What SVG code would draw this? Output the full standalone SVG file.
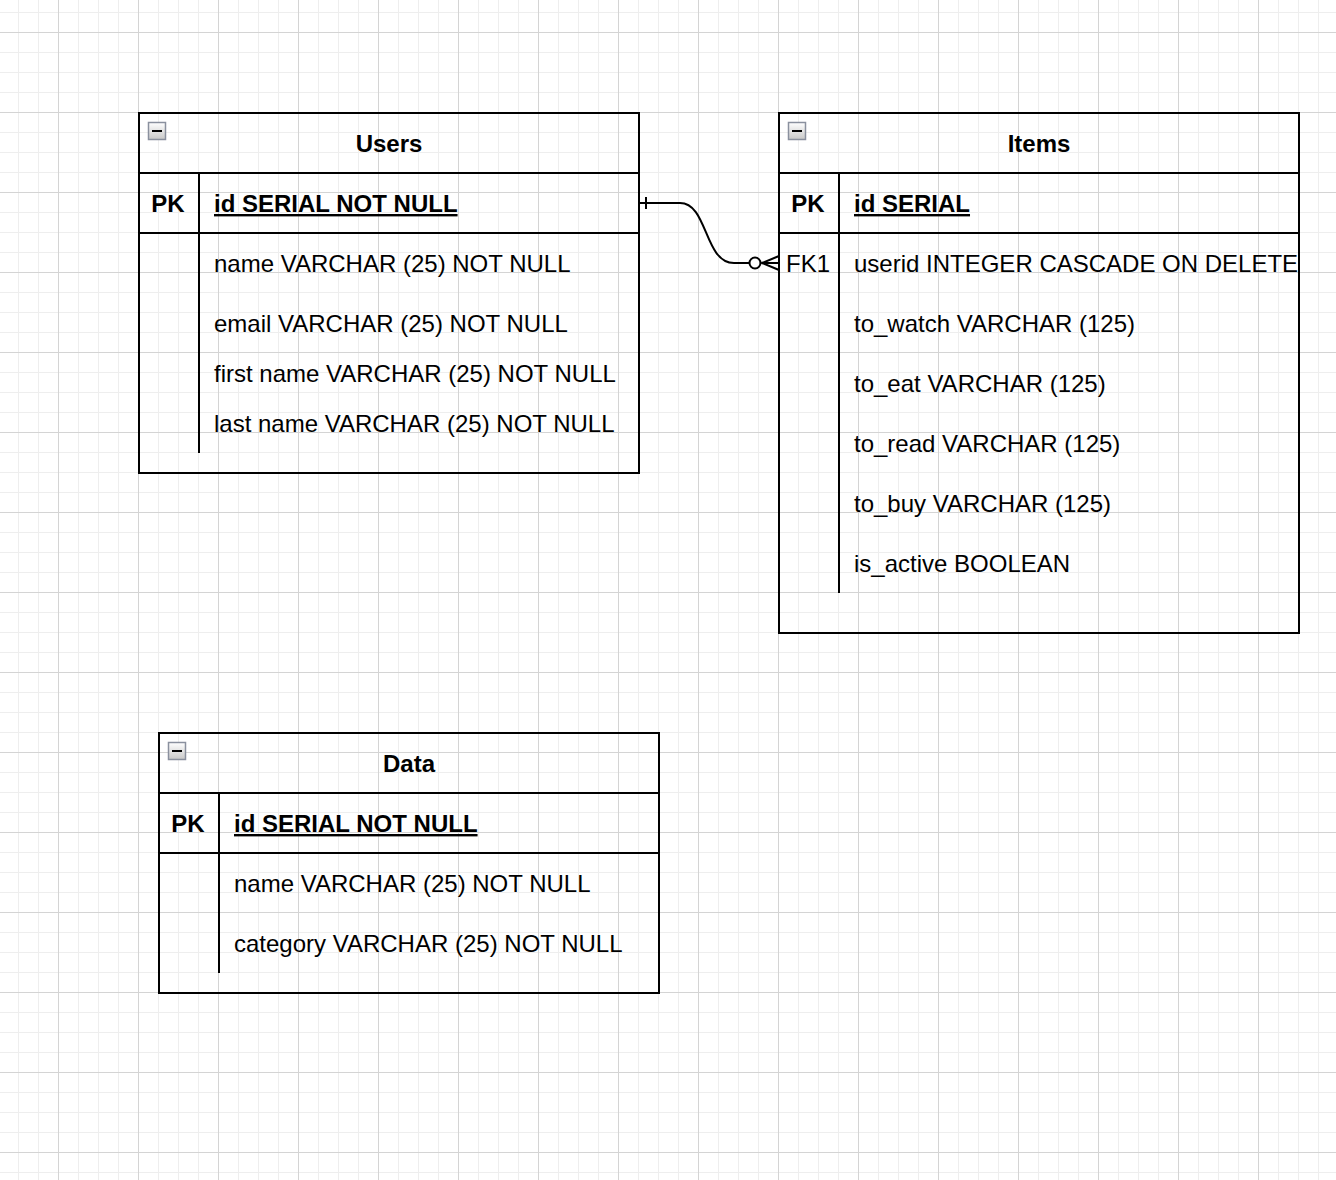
<svg xmlns="http://www.w3.org/2000/svg" width="1336" height="1180" viewBox="0 0 1336 1180">
<defs>
<pattern id="grid" x="58" y="32" width="80" height="80" patternUnits="userSpaceOnUse">
<path d="M20.5 0V80M40.5 0V80M60.5 0V80M0 20.5H80M0 40.5H80M0 60.5H80" stroke="#eeeeee" stroke-width="1" fill="none"/>
<path d="M0.5 0V80M0 0.5H80" stroke="#d4d4d4" stroke-width="1" fill="none"/>
</pattern>
<linearGradient id="btn" x1="0" y1="0" x2="0" y2="1">
<stop offset="0" stop-color="#ffffff"/>
<stop offset="1" stop-color="#c8c8c8"/>
</linearGradient>
<g id="collapse">
<rect x="0.5" y="0.5" width="17" height="17" fill="url(#btn)" stroke="#8a909e" stroke-width="1.5"/>
<line x1="4" y1="9" x2="14" y2="9" stroke="#000" stroke-width="2"/>
</g>
</defs>
<style>
.box{fill:none;stroke:#000;stroke-width:2}
.ln{stroke:#000;stroke-width:2;fill:none}
.t{font-family:"Liberation Sans",Arial,sans-serif;font-size:24px;fill:#000}
.b{font-weight:bold}
.m{text-anchor:middle}
.u{text-decoration:underline}
</style>
<rect x="0" y="0" width="1336" height="1180" fill="#fff"/>
<rect x="0" y="0" width="1336" height="1180" fill="url(#grid)"/>

<g id="users">
<rect class="box" x="139" y="113" width="500" height="360"/>
<line class="ln" x1="139" y1="173" x2="639" y2="173"/>
<line class="ln" x1="139" y1="233" x2="639" y2="233"/>
<line class="ln" x1="199" y1="173" x2="199" y2="453"/>
<use href="#collapse" x="148" y="122"/>
<text class="t b m" x="389" y="152">Users</text>
<text class="t b m" x="168" y="212">PK</text>
<text class="t b u" x="214" y="212">id SERIAL NOT NULL</text>
<text class="t" x="214" y="271.5">name VARCHAR (25) NOT NULL</text>
<text class="t" x="214" y="331.5">email VARCHAR (25) NOT NULL</text>
<text class="t" x="214" y="381.5">first name VARCHAR (25) NOT NULL</text>
<text class="t" x="214" y="431.5">last name VARCHAR (25) NOT NULL</text>
</g>

<g id="items">
<rect class="box" x="779" y="113" width="520" height="520"/>
<line class="ln" x1="779" y1="173" x2="1299" y2="173"/>
<line class="ln" x1="779" y1="233" x2="1299" y2="233"/>
<line class="ln" x1="839" y1="173" x2="839" y2="593"/>
<use href="#collapse" x="788" y="122"/>
<text class="t b m" x="1039" y="152">Items</text>
<text class="t b m" x="808" y="212">PK</text>
<text class="t b u" x="854" y="212">id SERIAL</text>
<text class="t m" x="808" y="271.5">FK1</text>
<text class="t" x="854" y="271.5">userid INTEGER CASCADE ON DELETE</text>
<text class="t" x="854" y="331.5">to_watch VARCHAR (125)</text>
<text class="t" x="854" y="391.5">to_eat VARCHAR (125)</text>
<text class="t" x="854" y="451.5">to_read VARCHAR (125)</text>
<text class="t" x="854" y="511.5">to_buy VARCHAR (125)</text>
<text class="t" x="854" y="571.5">is_active BOOLEAN</text>
</g>

<g id="data">
<rect class="box" x="159" y="733" width="500" height="260"/>
<line class="ln" x1="159" y1="793" x2="659" y2="793"/>
<line class="ln" x1="159" y1="853" x2="659" y2="853"/>
<line class="ln" x1="219" y1="793" x2="219" y2="973"/>
<use href="#collapse" x="168" y="742"/>
<text class="t b m" x="409" y="772">Data</text>
<text class="t b m" x="188" y="832">PK</text>
<text class="t b u" x="234" y="832">id SERIAL NOT NULL</text>
<text class="t" x="234" y="891.5">name VARCHAR (25) NOT NULL</text>
<text class="t" x="234" y="951.5">category VARCHAR (25) NOT NULL</text>
</g>

<g id="connectors">
<path class="ln" d="M639 203H680C708 203 704 263 734 263H749"/>
<line class="ln" x1="646" y1="197" x2="646" y2="209"/>
<circle cx="755" cy="263" r="5.5" fill="#fff" stroke="#000" stroke-width="2"/>
<path class="ln" d="M779 256L762 263L779 270M762 263H779"/>
</g>
</svg>
